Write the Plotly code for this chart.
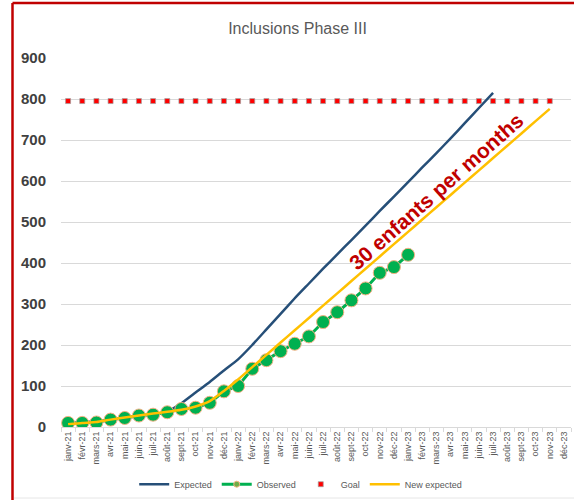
import plotly.graph_objects as go

months = ["janv-21", "févr-21", "mars-21", "avr-21", "mai-21", "juin-21", "juil-21", "août-21",
          "sept-21", "oct-21", "nov-21", "déc-21",
          "janv-22", "févr-22", "mars-22", "avr-22", "mai-22", "juin-22", "juil-22", "août-22",
          "sept-22", "oct-22", "nov-22", "déc-22",
          "janv-23", "févr-23", "mars-23", "avr-23", "mai-23", "juin-23", "juil-23", "août-23",
          "sept-23", "oct-23", "nov-23", "déc-23"]

expected = [10, 12, 14, 18, 22, 27, 31, 38, 58, 84, 110, 138, 165, 200, 238, 276, 314,
            350, 386, 421, 456, 491, 527, 562, 597, 633, 668, 704, 741, 778, 815]

observed = [10, 10, 11, 18, 22, 28, 30, 36, 44, 47, 59, 87, 100, 142, 163, 185, 203,
            221, 256, 280, 309, 338, 376, 390, 420]

goal = [795] * 35

new_expected = [7, 10, 12, 18, 23, 28, 33, 37, 42, 50, 63, 88, 116, 146, 176, 206, 236,
                266, 296, 326, 356, 386, 416, 446, 476, 506, 536, 566, 596, 626, 656,
                686, 716, 746, 776]

idx = list(range(len(months)))

fig = go.Figure()
fig.add_trace(go.Scatter(x=idx[:len(expected)], y=expected, name="Expected", mode="lines",
                         line=dict(color="#264F78", width=2.5, shape="spline", smoothing=0.5),
                         legendrank=1))
fig.add_trace(go.Scatter(x=idx[:len(observed)], y=observed, name="Observed", mode="lines+markers",
                         line=dict(color="#00B050", width=3), showlegend=False,
                         marker=dict(color="#00B050", size=13, line=dict(color="#F4B183", width=1))))
# legend entry for Observed with a small marker, as in the reference legend
fig.add_trace(go.Scatter(x=[None], y=[None], name="Observed", mode="lines+markers",
                         line=dict(color="#00B050", width=3), legendrank=2,
                         marker=dict(color="#70AD47", size=6, line=dict(color="#F4B183", width=1))))
fig.add_trace(go.Scatter(x=idx[:len(goal)], y=goal, name="Goal", mode="markers", legendrank=3,
                         marker=dict(symbol="square", color="#FF0000", size=5,
                                     line=dict(color="rgba(160,160,160,0.7)", width=1))))
fig.add_trace(go.Scatter(x=idx[:len(new_expected)], y=new_expected, name="New expected",
                         mode="lines", legendrank=4,
                         line=dict(color="#FFC000", width=2.5, shape="spline", smoothing=0.6)))

fig.update_layout(
    width=574, height=500,
    margin=dict(l=61, r=3, t=58, b=73, autoexpand=False),
    plot_bgcolor="white", paper_bgcolor="white",
    font=dict(family="Liberation Sans", color="#595959"),
    title=dict(text="Inclusions Phase III", x=297.5 / 574, xref="container", xanchor="center",
               y=1 - 28 / 500, yref="container", yanchor="middle",
               font=dict(size=16, color="#595959", family="Liberation Sans")),
    showlegend=True,
    legend=dict(orientation="h", x=0.47, xanchor="center", y=-0.155, yanchor="middle",
                font=dict(size=9, color="#595959"), itemwidth=30,
                bgcolor="rgba(0,0,0,0)"),
    xaxis=dict(range=[-0.5, 35.5], tickmode="array", tickvals=idx, ticktext=months,
               tickangle=-90, tickfont=dict(size=9, color="#595959"), automargin=False,
               showgrid=False, zeroline=False, showline=True, linecolor="#D9D9D9", linewidth=1,
               ticks="", fixedrange=True,
               minor=dict(tickvals=[i - 0.5 for i in range(37)], ticks="outside", ticklen=4,
                          tickcolor="#D9D9D9", showgrid=False)),
    yaxis=dict(range=[0, 900], dtick=100, showgrid=True, gridcolor="#D9D9D9", gridwidth=1,
               zeroline=False, showline=False, ticks="", ticklabelstandoff=14, automargin=False,
               fixedrange=True,
               tickfont=dict(size=15, color="#404040", family="Liberation Sans", weight="bold")),
)

fig.add_annotation(text="<b>30 enfants per months</b>", xref="paper", yref="y",
                   x=(436 - 61) / 510, y=575, xanchor="center", yanchor="middle",
                   showarrow=False, textangle=-41.5,
                   font=dict(size=21, color="#C00000", family="Liberation Sans"))

# red frame around the chart (cropped on right and bottom)
fig.add_shape(type="line", xref="paper", yref="paper",
              x0=(12.5 - 61) / 510, x1=(12.5 - 61) / 510, y0=(427 - 520) / 369, y1=(427 - 3) / 369,
              line=dict(color="#C00000", width=2.5))
fig.add_shape(type="line", xref="paper", yref="paper",
              x0=(12.5 - 61) / 510, x1=(600 - 61) / 510, y0=(427 - 3) / 369, y1=(427 - 3) / 369,
              line=dict(color="#C00000", width=2.5))
fig.add_shape(type="line", xref="paper", yref="paper",
              x0=(14 - 61) / 510, x1=(600 - 61) / 510, y0=(427 - 498) / 369, y1=(427 - 498) / 369,
              line=dict(color="#E6E6E6", width=1))

fig.write_html("out.html", config={"displayModeBar": False},
               post_script="document.body.style.margin='0';document.body.style.overflow='hidden';")
